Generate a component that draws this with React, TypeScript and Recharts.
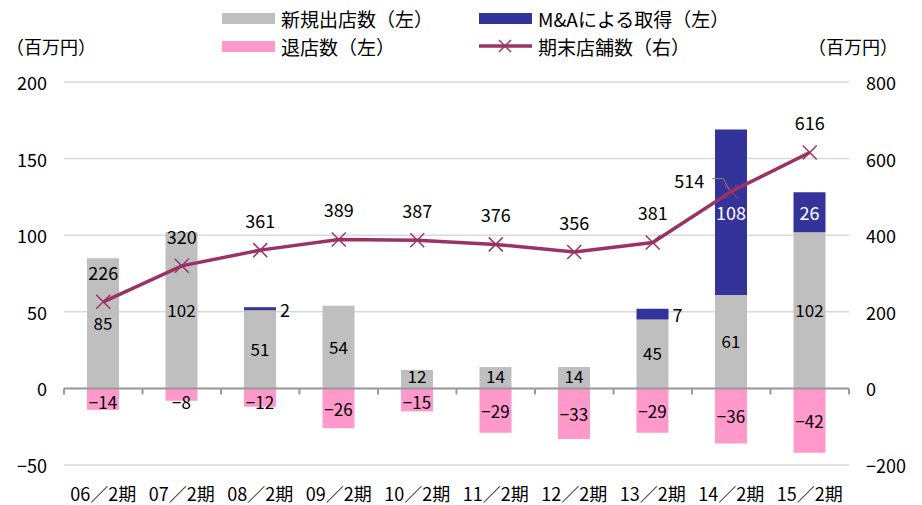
import {
  ComposedChart,
  Bar,
  Line,
  XAxis,
  YAxis,
  CartesianGrid,
  ReferenceLine,
  LabelList,
} from 'recharts';

const categories = ['06／2期', '07／2期', '08／2期', '09／2期', '10／2期', '11／2期', '12／2期', '13／2期', '14／2期', '15／2期'];
const newStores = [85, 102, 51, 54, 12, 14, 14, 45, 61, 102];
const maStores = [0, 0, 2, 0, 0, 0, 0, 7, 108, 26];
const closedStores = [-14, -8, -12, -26, -15, -29, -33, -29, -36, -42];
const totalStores = [226, 320, 361, 389, 387, 376, 356, 381, 514, 616];

const leftTicks = [-50, 0, 50, 100, 150, 200];
const rightTicks = [-200, 0, 200, 400, 600, 800];

const data = categories.map((name, i) => ({
  name,
  newStores: newStores[i],
  maStores: maStores[i],
  closedStores: closedStores[i],
  totalStores: totalStores[i],
}));

const FONT = '"Noto Sans CJK JP", "Noto Sans", sans-serif';
const GRAY = '#BFBFBF';
const NAVY = '#333399';
const PINK = '#FF99CC';
const MAROON = '#993366';

// plot box (matches chart margins below)
const PLOT_TOP = 82;
const PLOT_H = 383;
const ZERO_Y = PLOT_TOP + (PLOT_H * 200) / 250;

const fmt = (v: number) => (v < 0 ? `−${Math.abs(v)}` : `${v}`);

const XTick = (props: any) => {
  const { x, payload, index } = props;
  const half = payload?.offset ?? 39.25;
  return (
    <g>
      <line x1={x - half} x2={x - half} y1={ZERO_Y} y2={ZERO_Y + 6} stroke="#999" strokeWidth={2} />
      {index === categories.length - 1 && (
        <line x1={x + half} x2={x + half} y1={ZERO_Y} y2={ZERO_Y + 6} stroke="#999" strokeWidth={2} />
      )}
      <text x={x} y={493} textAnchor="middle" dominantBaseline="central" fontSize={18} fill="#000">
        {payload.value}
      </text>
    </g>
  );
};

const LeftTick = (props: any) => {
  const { x, y, payload } = props;
  return (
    <text x={x} y={y} textAnchor="end" dominantBaseline="central" fontSize={18} fill="#000">
      {fmt(payload.value)}
    </text>
  );
};

const RightTick = (props: any) => {
  const { x, y, payload } = props;
  return (
    <text x={x} y={y} textAnchor="start" dominantBaseline="central" fontSize={18} fill="#000">
      {fmt(payload.value)}
    </text>
  );
};

// gray bar labels: centred, but kept clear of the zero line on short bars
const NewLabel = (props: any) => {
  const { x, y, width, height, value } = props;
  if (!value) return null;
  const cy = Math.min(y + height / 2 - 1, ZERO_Y - 13);
  return (
    <text x={x + width / 2} y={cy} textAnchor="middle" dominantBaseline="central" fontSize={17} fill="#000">
      {value}
    </text>
  );
};

const MaLabel = (props: any) => {
  const { x, y, width, height, value } = props;
  if (!value) return null;
  if (value < 20) {
    return (
      <text x={x + width + 4} y={y + height / 2} textAnchor="start" dominantBaseline="central" fontSize={18} fill="#000">
        {value}
      </text>
    );
  }
  return (
    <text x={x + width / 2} y={y + height / 2} textAnchor="middle" dominantBaseline="central" fontSize={18} fill="#fff">
      {value}
    </text>
  );
};

const ClosedLabel = (props: any) => {
  const { x, y, width, height, value } = props;
  const top = Math.min(y, y + height);
  const h = Math.abs(height);
  return (
    <text x={x + width / 2} y={top + Math.max(h / 2, 13)} textAnchor="middle" dominantBaseline="central" fontSize={17} fill="#000">
      {fmt(value)}
    </text>
  );
};

const TotalLabel = (props: any) => {
  const { x, y, value, index } = props;
  if (index === 8) {
    return (
      <g>
        <polyline points={`${x - 19},${y - 13} ${x - 8},${y - 13} ${x - 2},${y - 2}`} fill="none" stroke="#808080" strokeWidth={1} />
        <text x={x - 42} y={y - 12} textAnchor="middle" dominantBaseline="central" fontSize={18} fill="#000">
          {value}
        </text>
      </g>
    );
  }
  return (
    <text x={x} y={y - 30} textAnchor="middle" dominantBaseline="central" fontSize={18} fill="#000">
      {value}
    </text>
  );
};

const CrossDot = (props: any) => {
  const { cx, cy, index } = props;
  if (cx == null || cy == null) return null;
  const s = 7;
  return (
    <g key={`dot-${index}`}>
      <line x1={cx - s} y1={cy - s} x2={cx + s} y2={cy + s} stroke={MAROON} strokeWidth={1.5} />
      <line x1={cx - s} y1={cy + s} x2={cx + s} y2={cy - s} stroke={MAROON} strokeWidth={1.5} />
    </g>
  );
};

const LegendItem = ({ left, top, label, kind, color }: any) => (
  <div style={{ position: 'absolute', left, top, display: 'flex', alignItems: 'center', height: 24 }}>
    {kind === 'line' ? (
      <svg width={53} height={16} style={{ marginRight: 6 }}>
        <line x1={0} y1={8} x2={53} y2={8} stroke={color} strokeWidth={3.5} />
        <line x1={20} y1={2} x2={32} y2={14} stroke={color} strokeWidth={1.5} />
        <line x1={20} y1={14} x2={32} y2={2} stroke={color} strokeWidth={1.5} />
      </svg>
    ) : (
      <div style={{ width: 53, height: 11, background: color, marginRight: 6 }} />
    )}
    <span style={{ fontSize: 19, color: '#000', whiteSpace: 'nowrap' }}>{label}</span>
  </div>
);

export default function App() {
  return (
    <div
      style={{
        position: 'absolute',
        left: 0,
        top: 0,
        width: 922,
        height: 505,
        background: '#fff',
        fontFamily: FONT,
      }}
    >
      {/* Legend */}
      <LegendItem left={222} top={6} label="新規出店数（左）" color={GRAY} />
      <LegendItem left={479} top={6} label="M&Aによる取得（左）" color={NAVY} />
      <LegendItem left={222} top={34} label="退店数（左）" color={PINK} />
      <LegendItem left={479} top={34} label="期末店舗数（右）" color={MAROON} kind="line" />

      {/* Units */}
      <div style={{ position: 'absolute', left: 6, top: 34, fontSize: 18, lineHeight: '24px' }}>（百万円）</div>
      <div style={{ position: 'absolute', left: 808, top: 34, fontSize: 18, lineHeight: '24px' }}>（百万円）</div>

      <div style={{ position: 'absolute', left: 0, top: 0 }}>
        <ComposedChart
          width={922}
          height={505}
          data={data}
          stackOffset="sign"
          margin={{ top: PLOT_TOP, right: 0, bottom: 0, left: 0 }}
          barSize={32}
          style={{ fontFamily: FONT }}
        >
          <CartesianGrid yAxisId="left" vertical={false} stroke="#D9D9D9" strokeWidth={1.5} />
          <XAxis
            dataKey="name"
            height={40}
            axisLine={false}
            tickLine={false}
            tick={<XTick />}
            interval={0}
          />
          <YAxis
            yAxisId="left"
            domain={[-50, 200]}
            ticks={leftTicks}
            width={64}
            axisLine={false}
            tickLine={false}
            tickSize={0}
            tickMargin={17}
            tick={<LeftTick />}
            interval={0}
          />
          <YAxis
            yAxisId="right"
            orientation="right"
            domain={[-200, 800]}
            ticks={rightTicks}
            width={73}
            axisLine={false}
            tickLine={false}
            tickSize={0}
            tickMargin={17}
            tick={<RightTick />}
            interval={0}
          />
          <Bar dataKey="newStores" yAxisId="left" stackId="a" fill={GRAY} isAnimationActive={false}>
            <LabelList dataKey="newStores" content={<NewLabel />} />
          </Bar>
          <Bar dataKey="maStores" yAxisId="left" stackId="a" fill={NAVY} isAnimationActive={false}>
            <LabelList dataKey="maStores" content={<MaLabel />} />
          </Bar>
          <Bar dataKey="closedStores" yAxisId="left" stackId="a" fill={PINK} isAnimationActive={false}>
            <LabelList dataKey="closedStores" content={<ClosedLabel />} />
          </Bar>
          <ReferenceLine y={0} yAxisId="left" stroke="#999" strokeWidth={2} />
          <Line
            dataKey="totalStores"
            yAxisId="right"
            type="linear"
            stroke={MAROON}
            strokeWidth={3.5}
            dot={<CrossDot />}
            activeDot={false}
            isAnimationActive={false}
          >
            <LabelList dataKey="totalStores" content={<TotalLabel />} />
          </Line>
        </ComposedChart>
      </div>
    </div>
  );
}
